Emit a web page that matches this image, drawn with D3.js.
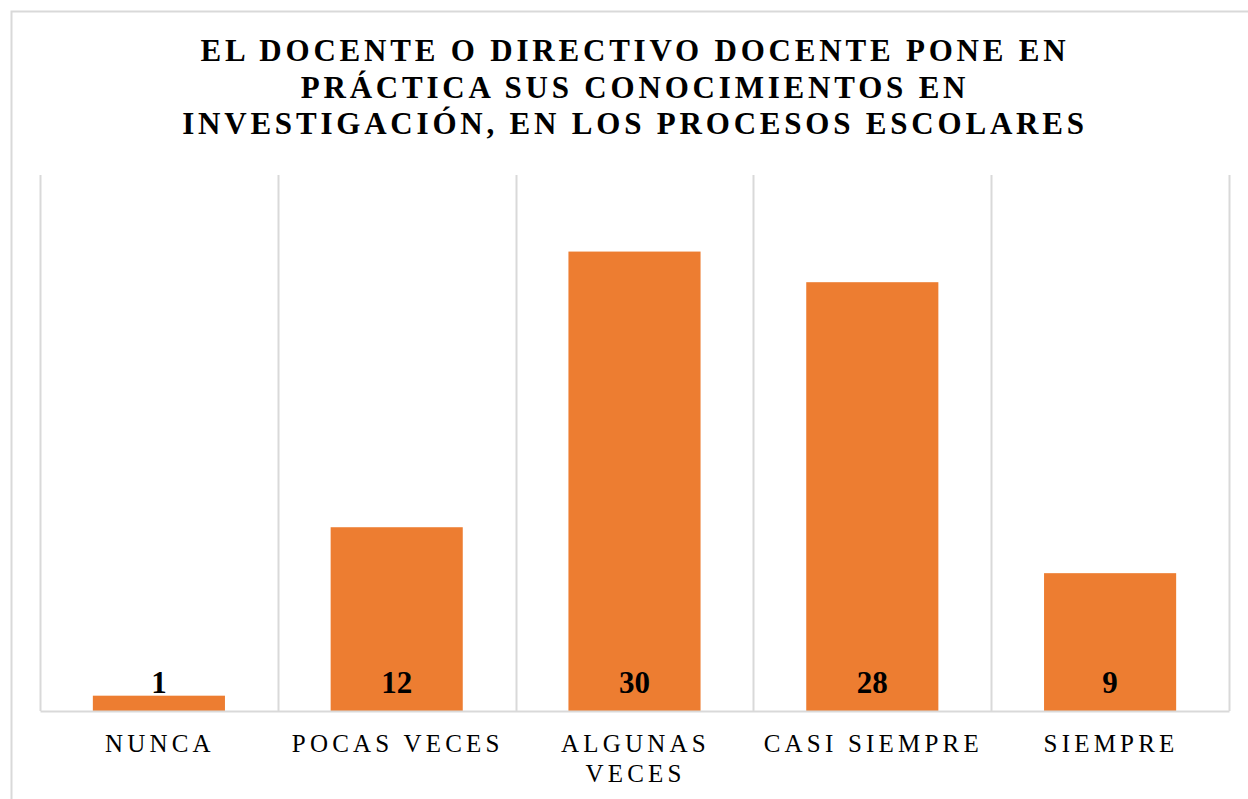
<!DOCTYPE html>
<html>
<head>
<meta charset="utf-8">
<script src="https://cdn.jsdelivr.net/npm/d3@7"></script>
<style>
  body { margin: 0; background: #fff; }
  svg text { font-family: "Liberation Serif", "Times New Roman", serif; }
</style>
</head>
<body>
<div id="chart"></div>
<script>
// data
var categories = ["NUNCA", "POCAS VECES", "ALGUNAS VECES", "CASI SIEMPRE", "SIEMPRE"];
var values = [1, 12, 30, 28, 9];
var titleLines = [
  "EL DOCENTE O DIRECTIVO DOCENTE PONE EN",
  "PRÁCTICA SUS CONOCIMIENTOS EN",
  "INVESTIGACIÓN, EN LOS PROCESOS ESCOLARES"
];
// label wraps like the original
var catLines = {
  "NUNCA": ["NUNCA"],
  "POCAS VECES": ["POCAS VECES"],
  "ALGUNAS VECES": ["ALGUNAS", "VECES"],
  "CASI SIEMPRE": ["CASI SIEMPRE"],
  "SIEMPRE": ["SIEMPRE"]
};

var W = 1248, H = 799;
var margin = {top: 175, right: 19, bottom: 88, left: 40};
var width = W - margin.left - margin.right;
var height = H - margin.top - margin.bottom;

var svgparent = d3.select("#chart").append("svg")
  .attr("width", W)
  .attr("height", H);

// chart area border
svgparent.append("rect")
  .attr("x", 11.5).attr("y", 11.5)
  .attr("width", W + 20).attr("height", H + 20)
  .attr("fill", "none")
  .attr("stroke", "#d9d9d9")
  .attr("stroke-width", 2);

// title
svgparent.append("text")
  .attr("text-anchor", "middle")
  .style("font-weight", "bold")
  .style("font-size", "31px")
  .style("letter-spacing", "3.8px")
  .attr("fill", "#000")
  .selectAll("tspan")
  .data(titleLines)
  .enter().append("tspan")
  .attr("x", 635)
  .attr("y", function(d, i) { return 61 + i * 36.5; })
  .text(function(d) { return d; });

var svg = svgparent.append("g")
  .attr("transform", "translate(" + margin.left + "," + margin.top + ")");

var x = d3.scaleBand()
  .domain(categories)
  .range([0, width])
  .paddingInner(0.8 / 1.8)
  .paddingOuter(0.4 / 1.8);

var y = d3.scaleLinear().domain([0, 35]).range([height, 0]);

// vertical gridlines between categories
var bounds = d3.range(categories.length + 1).map(function(i) { return i * x.step(); });
svg.selectAll("line.grid")
  .data(bounds)
  .enter().append("line")
  .attr("class", "grid")
  .attr("x1", function(d) { return Math.round(d) + 0.5; })
  .attr("x2", function(d) { return Math.round(d) + 0.5; })
  .attr("y1", 0)
  .attr("y2", height)
  .attr("stroke", "#d9d9d9")
  .attr("stroke-width", 2);

// bars
svg.selectAll("rect.bar")
  .data(values)
  .enter().append("rect")
  .attr("class", "bar")
  .attr("x", function(d, i) { return x(categories[i]); })
  .attr("width", x.bandwidth())
  .attr("y", function(d) { return y(d); })
  .attr("height", function(d) { return height - y(d); })
  .attr("fill", "#ed7d31");

// baseline axis
var xAxis = svg.append("g")
  .attr("transform", "translate(0," + height + ")")
  .call(d3.axisBottom(x).tickSize(0).tickFormat(""));
xAxis.select(".domain").attr("stroke", "#d9d9d9").attr("stroke-width", 2);

// category labels
var labels = svg.selectAll("text.cat")
  .data(categories)
  .enter().append("text")
  .attr("class", "cat")
  .attr("text-anchor", "middle")
  .style("font-size", "25px")
  .style("letter-spacing", "4.2px")
  .attr("fill", "#000");
labels.selectAll("tspan")
  .data(function(d) { return catLines[d].map(function(t) { return {c: d, t: t}; }); })
  .enter().append("tspan")
  .attr("x", function(d) { return x(d.c) + x.bandwidth() / 2 + 1; })
  .attr("y", function(d, i) { return height + 41 + i * 30; })
  .text(function(d) { return d.t; });

// data labels (inside base)
svg.selectAll("text.val")
  .data(values)
  .enter().append("text")
  .attr("class", "val")
  .attr("text-anchor", "middle")
  .attr("x", function(d, i) { return x(categories[i]) + x.bandwidth() / 2; })
  .attr("y", height - 18)
  .style("font-size", "31px")
  .style("font-weight", "bold")
  .attr("fill", "#000")
  .text(function(d) { return d; });
</script>
</body>
</html>
